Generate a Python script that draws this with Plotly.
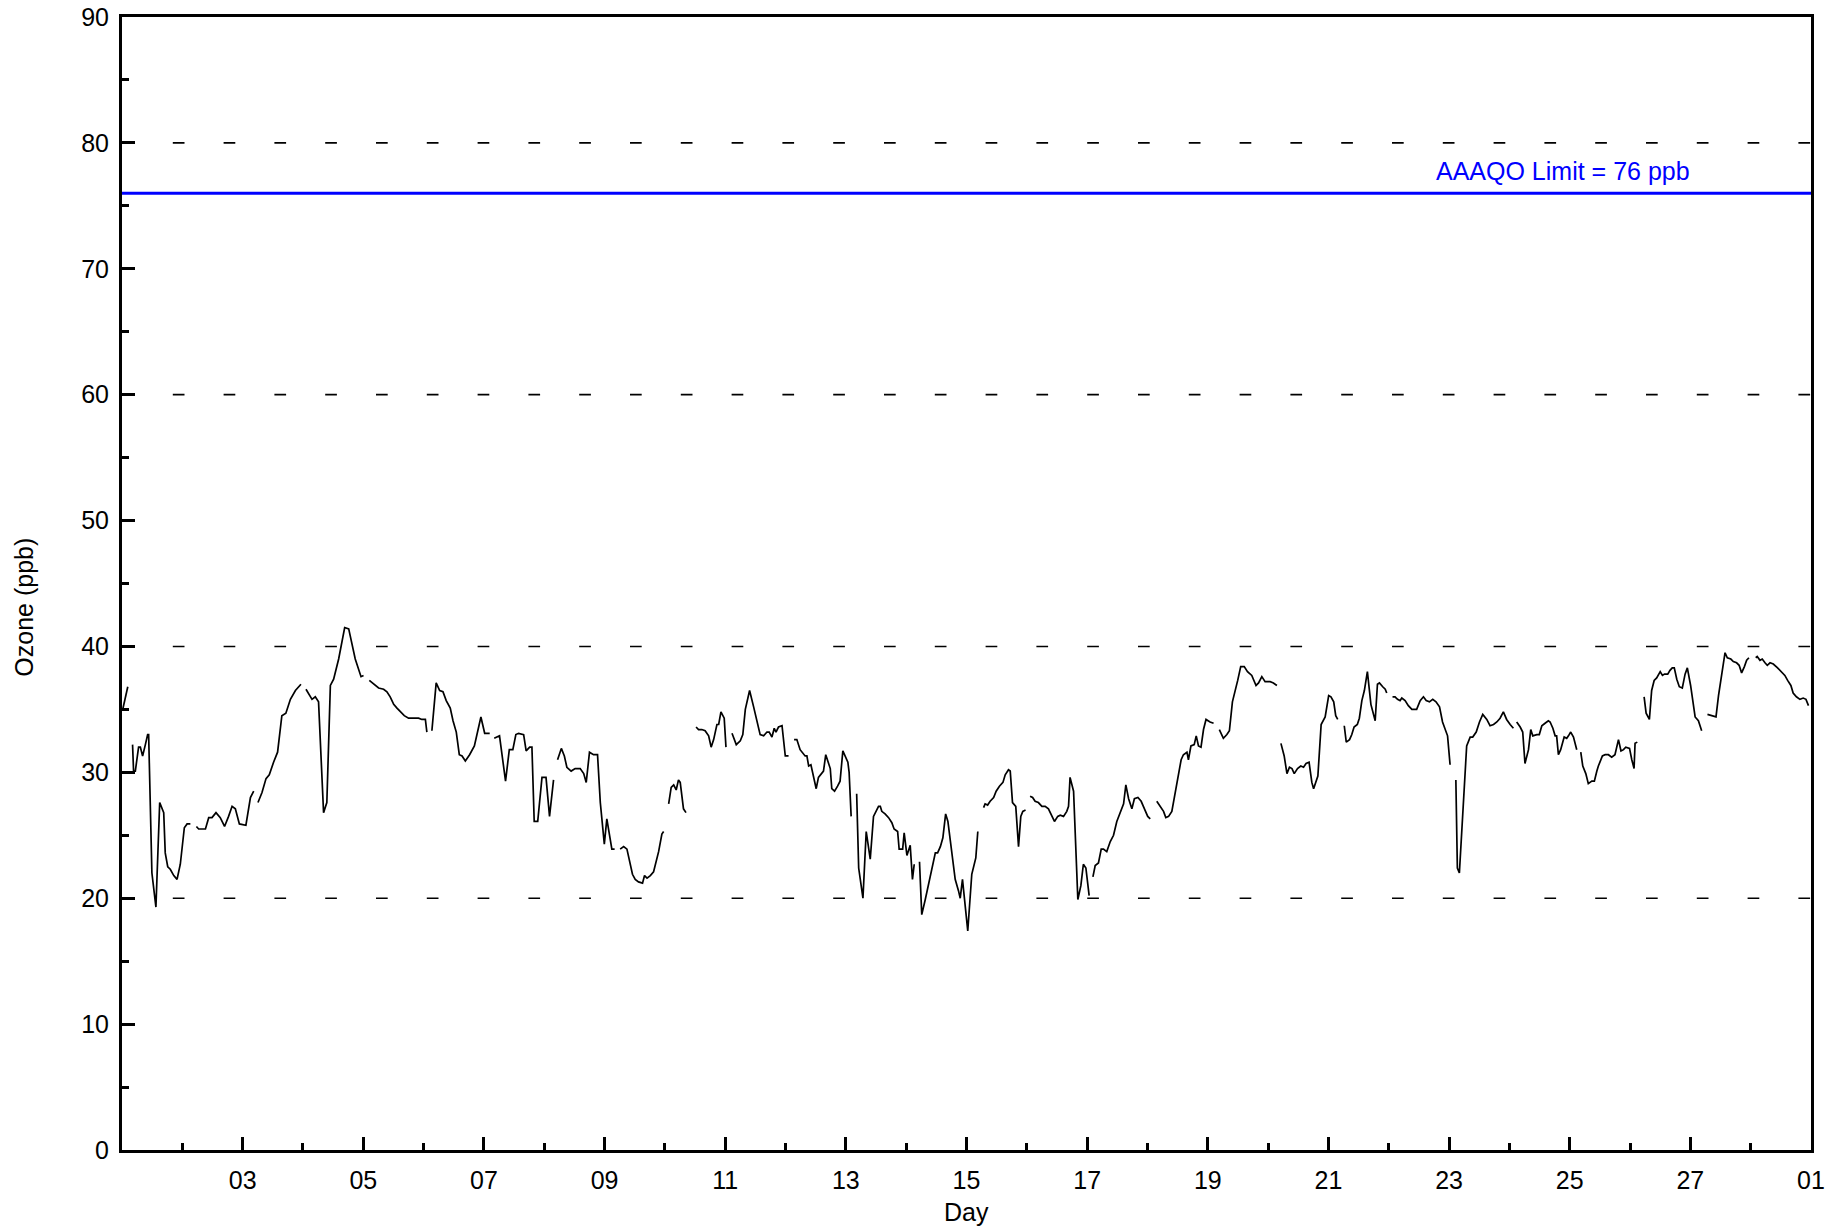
import pandas as pd
import plotly.graph_objects as go

# ---------------- data (hours since 2023-02-01 00:00, ozone in ppb; None = gap) -------------
hours = [
    0.3, 2.3, None,
    4.2, 4.6, 5.3, 6.6, 7.3, 8.2, 9.3, 10.2, 10.6, 11.9, 13.5, 15.0, 16.6, 17.2, 18.2, 19.2, 20.6, 21.9, 23.2, 24.8, 25.9, 27.2, None,
    29.6, 30.5, 33.2, 34.5, 35.8, 37.4, 39.1, 40.8, 42.4, 43.8, 45.1, 46.7, 49.3, 51.1, 52.4, None,
    54.1, 55.7, 57.3, 58.6, 60.3, 61.9, 63.6, 65.2, 67.0, 69.0, 71.2, None,
    73.2, 75.6, 76.9, 78.2, 80.2, 81.5, 82.9, 84.2, 86.2, 88.6, 90.2, 92.8, 95.1, 96.1, None,
    98.4, 100.1, 102.1, 104.1, 105.4, 106.7, 108.1, 109.4, 111.0, 112.3, 114.0, 118.0, 119.3, 120.7, 121.3, None,
    123.3, 125.0, 126.4, 127.7, 129.0, 130.6, 131.7, 133.0, 134.2, 135.3, 136.6, 138.3, 140.2, 141.5, 142.8, 144.3, 146.3, None,
    148.1, 150.2, 152.6, 154.1, 155.5, 156.7, 157.8, 159.8, 160.8, 162.2, 163.1, 164.0, 165.4, 167.1, 168.7, 170.1, 171.7, None,
    173.3, 174.8, 176.0, 177.0, 178.7, 180.3, 182.3, 183.7, 184.7, 186.0, 187.6, 189.2, 190.3, 191.9, 192.9, 194.9, 196.0, None,
    198.2, 199.6, 200.9, 202.2, 203.1, 204.2, 205.5, 207.1, 207.9, 208.9, 210.2, 211.5, 212.2, 213.5, 214.8, 215.5, None,
    217.5, 218.5, 219.5, 220.5, 221.4, 222.1, 223.4, 224.4, None,
    228.4, 229.4, 230.7, 232.0, 233.4, 234.4, 235.4, 236.7, 237.4, 238.3, 239.6, 240.3, None,
    242.7, 244.4, 246.0, 247.0, 248.0, 249.7, 251.3, 252.6, 253.9, 255.3, 256.6, 257.5, 258.6, 259.5, 260.2, 261.2, 262.6, 263.9, 265.2, None,
    267.4, 268.5, 269.8, 271.8, 272.5, 273.2, 274.1, 275.1, 276.2, 277.1, 278.4, 279.1, 280.0, 281.1, 281.8, 282.4, 283.5, 284.7, 285.7, 286.8, 288.0, 288.8, 289.3, 290.1, None,
    292.3, 293.1, 294.8, 296.1, 297.7, 299.0, 301.0, 301.7, 302.3, 303.6, 305.0, 306.3, 307.2, 308.6, 309.2, 310.6, 311.2, 312.3, 313.6, 314.5, 315.2, None,
    317.3, 318.2, 319.6, 320.9, 322.2, 323.6, 324.5, 325.6, 326.6, 327.7, 328.6, 330.2, 331.5, 332.8, 333.5, 334.4, 335.5, 336.5, 338.1, 339.7, 340.5, None,
    342.8, 343.4, 344.4, 345.4, 346.8, 347.8, 349.1, 350.5, 351.4, 352.7, 353.4, 354.3, 355.6, 356.7, 357.6, 358.4, 359.5, None,
    361.3, 362.3, 363.3, 364.6, 366.0, 367.3, 368.6, 369.9, 371.0, 372.3, 373.3, 374.6, 375.9, 376.6, 377.2, 378.6, 380.3, 381.5, 382.5, 383.5, 384.8, None,
    386.3, 387.2, 388.5, 389.6, 390.5, 391.8, 393.2, 394.5, 395.8, 397.1, 398.5, 399.4, 400.5, 401.8, 402.8, 404.2, 405.5, 406.8, 408.1, 409.1, None,
    411.7, 413.1, 414.4, 415.3, 416.4, 417.7, 419.0, 420.3, 421.4, 422.3, 423.7, 424.3, 425.3, 426.6, 427.4, 428.3, 429.3, 430.3, 431.3, 432.9, 434.3, None,
    436.6, 438.2, 439.6, 440.6, 441.8, 442.9, 443.9, 445.1, 446.5, 447.8, 449.5, 451.2, 452.2, 453.5, 454.8, 456.8, 458.1, 459.5, None,
    461.1, 462.4, 463.5, 464.5, 465.5, 466.4, 467.7, 469.0, 470.1, 471.1, 472.3, 473.4, 474.1, 475.0, 475.8, 477.1, 478.7, 480.1, 481.0, 482.1, 482.9, 483.7, None,
    486.3, 487.1, 488.4, 489.3, 490.2, 491.5, 492.3, 493.3, 494.3, 495.5, 496.9, 498.6, 499.5, 500.3, 501.6, 502.6, 503.2, None,
    505.5, 506.5, 507.5, 508.5, 509.2, 510.5, 511.8, 513.2, 515.1, 516.5, 517.8, 518.9, 520.2, 521.5, 522.8, 524.2, 525.4, 526.4, 527.4, 528.4, None,
    530.7, 531.3, 532.1, 533.5, 535.0, 536.4, 537.4, 538.8, 540.1, 541.4, 543.0, 544.3, 545.7, 547.0, 548.3, 549.6, 550.9, 552.3, 553.6, None,
    554.9, 556.3, 557.3, 558.2, 559.6, 560.5, 561.3, 562.9, 563.9, 564.9, 566.2, 567.5, 568.2, 569.3, 570.2, 570.8, 571.5, 572.4, 573.8, 574.8, 575.5, 576.4, 577.5, 578.8, None,
    580.4, 581.2, 582.4, 583.4, 584.8, 585.8, 586.8, 587.4, 589.0, 590.1, 591.4, 592.7, 594.0, 595.4, 596.4, 597.4, 598.3, 599.8, 600.7, 601.6, 602.0, 602.9, None,
    605.6, 606.4, 607.7, 608.6, 609.6, 610.6, 612.0, 612.9, 613.7, 615.0, 615.9, 616.8, 617.6, 618.6, 619.6, 620.8, 621.9, 622.8, 624.1, 625.9, 627.2, 628.5, None,
    630.8, 632.5, 634.2, 635.2, 636.5, 637.8, 638.7, 640.1, 641.1, 642.4, 643.4, 644.4, 645.5, 646.4, 647.3, None,
    650.0, 650.6, 651.7, 652.6, 653.7, 654.6, 655.7, 657.0, 658.7, 660.3, 661.6, 662.7, 664.0, 664.9, 666.2, 667.6, 668.9, 670.0, 671.0,
]

ozone = [
    35.0, 36.8, None,
    32.2, 30.1, 30.1, 32.0, 32.0, 31.3, 32.2, 33.0, 33.0, 22.0, 19.3, 27.6, 26.8, 23.6, 22.5, 22.3, 21.8, 21.5, 22.7, 25.6, 25.9, 25.9, None,
    25.7, 25.5, 25.5, 26.4, 26.4, 26.8, 26.4, 25.7, 26.5, 27.3, 27.1, 25.9, 25.8, 28.0, 28.5, None,
    27.6, 28.4, 29.5, 29.8, 30.8, 31.6, 34.5, 34.7, 35.8, 36.5, 37.0, None,
    36.6, 35.8, 36.0, 35.6, 26.8, 27.6, 36.9, 37.4, 39.0, 41.5, 41.4, 39.0, 37.6, 37.7, None,
    37.3, 37.0, 36.7, 36.6, 36.4, 36.0, 35.4, 35.1, 34.8, 34.5, 34.3, 34.3, 34.2, 34.2, 33.2, None,
    33.3, 37.1, 36.5, 36.4, 35.7, 35.1, 34.1, 33.2, 31.4, 31.3, 30.9, 31.4, 32.1, 33.3, 34.4, 33.1, 33.1, None,
    32.7, 32.9, 29.3, 31.8, 31.8, 33.0, 33.1, 33.0, 31.7, 32.0, 32.0, 26.1, 26.1, 29.6, 29.6, 26.5, 29.4, None,
    31.0, 31.9, 31.3, 30.4, 30.1, 30.3, 30.3, 29.9, 29.2, 31.6, 31.4, 31.4, 27.6, 24.3, 26.3, 23.9, 23.9, None,
    23.9, 24.1, 23.9, 22.7, 21.9, 21.5, 21.3, 21.2, 21.8, 21.6, 21.8, 22.1, 22.7, 23.7, 25.1, 25.3, None,
    27.5, 28.8, 29.0, 28.6, 29.4, 29.2, 27.1, 26.8, None,
    33.6, 33.4, 33.4, 33.3, 32.9, 32.0, 32.6, 33.8, 33.8, 34.8, 34.3, 32.0, None,
    33.1, 32.2, 32.5, 33.0, 35.0, 36.5, 35.2, 34.2, 33.0, 32.9, 33.2, 33.2, 32.8, 33.5, 33.2, 33.6, 33.7, 31.3, 31.3, None,
    32.6, 32.6, 31.8, 31.3, 31.3, 30.5, 30.6, 29.7, 28.7, 29.6, 29.9, 30.1, 31.4, 30.8, 30.3, 28.7, 28.5, 28.9, 29.3, 31.7, 31.2, 30.8, 30.0, 26.5, None,
    28.3, 22.4, 20.0, 25.3, 23.1, 26.5, 27.3, 27.3, 26.9, 26.7, 26.4, 26.0, 25.5, 25.3, 23.9, 23.9, 25.2, 23.4, 24.2, 21.5, 22.7, None,
    22.9, 18.7, 19.9, 21.1, 22.5, 23.6, 23.6, 24.1, 24.8, 26.7, 26.1, 23.3, 21.5, 20.6, 20.0, 21.5, 19.4, 17.4, 21.9, 23.2, 25.3, None,
    27.2, 27.5, 27.4, 27.7, 28.0, 28.5, 28.9, 29.2, 29.8, 30.2, 30.1, 27.6, 27.3, 24.1, 26.5, 26.9, 27.0, None,
    28.1, 28.0, 27.7, 27.6, 27.3, 27.3, 27.1, 26.5, 26.1, 26.5, 26.6, 26.5, 26.9, 27.3, 29.6, 28.5, 19.9, 21.0, 22.7, 22.4, 20.2, None,
    21.7, 22.6, 22.8, 23.9, 23.9, 23.7, 24.5, 25.0, 26.1, 26.8, 27.5, 29.0, 27.9, 27.1, 27.9, 28.0, 27.7, 27.1, 26.5, 26.3, None,
    27.7, 27.3, 26.9, 26.4, 26.5, 26.9, 28.4, 29.7, 31.0, 31.4, 31.6, 31.0, 32.1, 32.2, 32.9, 32.1, 32.0, 33.4, 34.2, 34.0, 33.9, None,
    33.4, 32.7, 33.0, 33.3, 35.6, 36.4, 37.3, 38.4, 38.4, 38.0, 37.7, 36.9, 37.1, 37.6, 37.2, 37.2, 37.1, 36.9, None,
    32.3, 31.3, 29.9, 30.4, 30.3, 29.9, 30.3, 30.5, 30.4, 30.7, 30.8, 29.2, 28.7, 29.2, 29.7, 33.8, 34.4, 36.1, 36.0, 35.6, 34.5, 34.2, None,
    33.7, 32.4, 32.6, 33.0, 33.6, 33.8, 34.3, 35.7, 36.5, 38.0, 35.4, 34.1, 37.0, 37.1, 36.8, 36.6, 36.3, None,
    36.0, 36.0, 35.8, 35.7, 35.9, 35.7, 35.3, 35.0, 35.0, 35.7, 36.0, 35.7, 35.6, 35.8, 35.6, 35.2, 34.0, 33.4, 32.9, 30.6, None,
    29.4, 22.4, 22.0, 26.8, 32.1, 32.8, 32.8, 33.2, 34.0, 34.6, 34.2, 33.7, 33.8, 34.0, 34.3, 34.8, 34.2, 33.8, 33.5, None,
    34.0, 33.6, 33.2, 30.7, 31.8, 33.4, 32.9, 33.0, 33.0, 33.7, 33.9, 34.1, 34.0, 33.5, 32.9, 32.9, 31.4, 31.8, 32.8, 32.7, 32.9, 33.2, 32.8, 31.8, None,
    31.6, 30.5, 29.9, 29.1, 29.3, 29.3, 30.1, 30.5, 31.3, 31.4, 31.4, 31.2, 31.4, 32.6, 31.7, 31.8, 32.0, 31.9, 31.0, 30.3, 32.3, 32.4, None,
    36.0, 34.7, 34.2, 36.5, 37.3, 37.5, 38.0, 37.7, 37.8, 37.8, 38.1, 38.3, 38.3, 37.4, 36.8, 36.7, 37.8, 38.3, 36.9, 34.4, 34.1, 33.3, None,
    34.6, 34.5, 34.4, 36.1, 38.0, 39.5, 39.1, 39.0, 38.8, 38.7, 38.5, 37.9, 38.4, 38.9, 39.1, None,
    39.1, 39.2, 38.9, 39.0, 38.7, 38.5, 38.7, 38.6, 38.3, 38.0, 37.7, 37.3, 36.9, 36.3, 36.0, 35.8, 35.9, 35.8, 35.3,
]

month_start = "2023-02-01"
month_end = "2023-03-01"
major_days = ["2023-02-03", "2023-02-05", "2023-02-07", "2023-02-09", "2023-02-11", "2023-02-13",
              "2023-02-15", "2023-02-17", "2023-02-19", "2023-02-21", "2023-02-23", "2023-02-25",
              "2023-02-27", "2023-03-01"]
major_labels = ["03", "05", "07", "09", "11", "13", "15", "17", "19", "21", "23", "25", "27", "01"]
minor_days = ["2023-02-%02d" % d for d in range(2, 29, 2)]
y_ticks = [0, 10, 20, 30, 40, 50, 60, 70, 80, 90]
grid_levels = [20, 40, 60, 80]
limit_value = 76
limit_label = "AAAQO Limit = 76 ppb"

# ---------------- build ----------------
base = pd.Timestamp(month_start)
x_vals = [None if h is None else base + pd.Timedelta(hours=h) for h in hours]

FONT = "Liberation Sans, Arial, Helvetica, sans-serif"
fig = go.Figure()
fig.add_trace(go.Scatter(x=x_vals, y=ozone, mode="lines", connectgaps=False,
                         line=dict(color="black", width=1.7), showlegend=False,
                         hoverinfo="x+y"))

shapes = []
for g in grid_levels:
    shapes.append(dict(type="line", xref="paper", x0=0, x1=1, yref="y", y0=g, y1=g,
                       line=dict(color="black", width=1.6, dash="11.7px,39.1px"), layer="below"))
shapes.append(dict(type="line", xref="paper", x0=0, x1=1, yref="y", y0=limit_value, y1=limit_value,
                   line=dict(color="#0000FF", width=3), layer="above"))

annotations = [
    dict(text=limit_label, xref="paper", x=0.853, yref="y", y=limit_value, xanchor="center",
         yanchor="bottom", yshift=6, showarrow=False, font=dict(family=FONT, size=25, color="#0000FF")),
    dict(text="Day", xref="paper", x=0.5, yref="paper", y=-0.0551, xanchor="center", yanchor="middle",
         showarrow=False, font=dict(family=FONT, size=25, color="black")),
    dict(text="Ozone (ppb)", xref="paper", x=-0.0578, yref="paper", y=0.479, xanchor="center",
         yanchor="middle", textangle=-90, showarrow=False, font=dict(family=FONT, size=25, color="black")),
]

# the page body adds an 8px offset, so the figure is 8px smaller and margins shifted
fig.update_layout(
    template="none",
    width=1829, height=1221,
    margin=dict(l=114, r=26, t=9, b=79, pad=0, autoexpand=False),
    paper_bgcolor="white", plot_bgcolor="white",
    font=dict(family=FONT, size=25, color="black"),
    shapes=shapes, annotations=annotations,
    xaxis=dict(type="date", range=[month_start, month_end], tickmode="array", automargin=False,
               tickvals=major_days, ticktext=major_labels, ticks="inside", ticklen=13,
               tickwidth=3, tickcolor="black", showline=True, linewidth=3, linecolor="black",
               mirror=True, showgrid=False, zeroline=False, ticklabelstandoff=6,
               ticklabeloverflow="allow",
               tickfont=dict(family=FONT, size=25, color="black"),
               minor=dict(tickmode="array", tickvals=minor_days, ticks="inside", ticklen=7,
                          tickwidth=3, tickcolor="black", showgrid=False)),
    yaxis=dict(range=[0, 90], tickmode="array", tickvals=y_ticks, ticks="inside", ticklen=13,
               automargin=False, ticklabelstandoff=5, ticklabeloverflow="allow",
               tickwidth=3, tickcolor="black", showline=True, linewidth=3, linecolor="black",
               mirror=True, showgrid=False, zeroline=False,
               tickfont=dict(family=FONT, size=25, color="black"),
               minor=dict(tick0=0, dtick=5, ticks="inside", ticklen=7, tickwidth=3,
                          tickcolor="black", showgrid=False)),
)

fig.write_html("out.html")
